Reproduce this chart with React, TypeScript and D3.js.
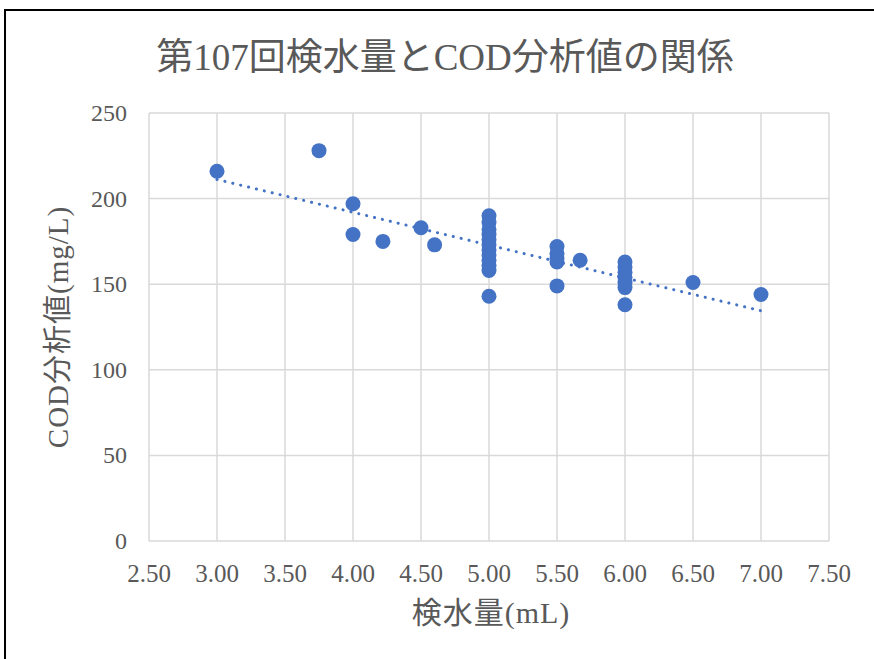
import React, { useEffect, useRef } from 'react';
import * as d3 from 'd3';

// 検水量 (mL) と COD 分析値 (mg/L) の組
const volumes = [
  3.0, 3.75, 4.0, 4.0, 4.22, 4.5, 4.6,
  5.0, 5.0, 5.0, 5.0, 5.0, 5.0, 5.0, 5.0, 5.0, 5.0, 5.0, 5.0,
  5.5, 5.5, 5.5, 5.5, 5.5, 5.67,
  6.0, 6.0, 6.0, 6.0, 6.0, 6.0, 6.0, 6.5, 7.0,
];
const codValues = [
  216, 228, 197, 179, 175, 183, 173,
  190, 186, 182, 179, 176, 173, 170, 167, 164, 161, 158, 143,
  172, 168, 165, 163, 149, 164,
  163, 160, 157, 154, 151, 148, 138, 151, 144,
];
const xTicks = [2.5, 3, 3.5, 4, 4.5, 5, 5.5, 6, 6.5, 7, 7.5];
const yTicks = [0, 50, 100, 150, 200, 250];

const title = '第107回検水量とCOD分析値の関係';
const xTitle = '検水量(mL)';
const yTitle = 'COD分析値(mg/L)';

const FONT = '"Liberation Serif", "DejaVu Serif", "Noto Sans CJK JP", serif';
const TEXT = '#595959';
const BLUE = '#4472C4';

function ScatterChart() {
  const svgRef = useRef<SVGSVGElement>(null);

  useEffect(() => {
    const width = 874;
    const height = 659;
    const plot = { left: 149, right: 829, top: 113, bottom: 541 };

    const svg = d3.select(svgRef.current);
    svg.selectAll('*').remove();
    svg.attr('width', width).attr('height', height);

    svg.append('rect').attr('width', width).attr('height', height).attr('fill', 'white');
    // chart border (cut off at the right and bottom)
    svg
      .append('rect')
      .attr('x', 5)
      .attr('y', 10)
      .attr('width', width + 20)
      .attr('height', height + 20)
      .attr('fill', 'none')
      .attr('stroke', '#000')
      .attr('stroke-width', 2);

    const x = d3.scaleLinear().domain([2.5, 7.5]).range([plot.left, plot.right]);
    const y = d3.scaleLinear().domain([0, 250]).range([plot.bottom, plot.top]);

    // gridlines
    svg
      .append('g')
      .selectAll('line')
      .data(xTicks)
      .enter()
      .append('line')
      .attr('x1', (d) => x(d))
      .attr('x2', (d) => x(d))
      .attr('y1', plot.top)
      .attr('y2', plot.bottom)
      .attr('stroke', '#d9d9d9')
      .attr('stroke-width', 1.5);
    svg
      .append('g')
      .selectAll('line')
      .data(yTicks)
      .enter()
      .append('line')
      .attr('x1', plot.left)
      .attr('x2', plot.right)
      .attr('y1', (d) => y(d))
      .attr('y2', (d) => y(d))
      .attr('stroke', '#d9d9d9')
      .attr('stroke-width', 1.5);

    // tick labels
    svg
      .append('g')
      .selectAll('text')
      .data(yTicks)
      .enter()
      .append('text')
      .attr('x', 127)
      .attr('y', (d) => y(d) + 8)
      .attr('text-anchor', 'end')
      .style('font-family', FONT)
      .style('font-size', '24px')
      .style('fill', TEXT)
      .text((d) => d);
    svg
      .append('g')
      .selectAll('text')
      .data(xTicks)
      .enter()
      .append('text')
      .attr('x', (d) => x(d))
      .attr('y', 582)
      .attr('text-anchor', 'middle')
      .style('font-family', FONT)
      .style('font-size', '25px')
      .style('fill', TEXT)
      .text((d) => d3.format('.2f')(d));

    // titles
    svg
      .append('text')
      .attr('x', 445)
      .attr('y', 70)
      .attr('text-anchor', 'middle')
      .style('font-family', FONT)
      .style('font-size', '37px')
      .style('fill', TEXT)
      .text(title);
    svg
      .append('text')
      .attr('x', 491)
      .attr('y', 623)
      .attr('text-anchor', 'middle')
      .style('font-family', FONT)
      .style('font-size', '30px')
      .style('letter-spacing', '1px')
      .style('fill', TEXT)
      .text(xTitle);
    svg
      .append('text')
      .attr('transform', `translate(68,327) rotate(-90)`)
      .attr('text-anchor', 'middle')
      .style('font-family', FONT)
      .style('font-size', '29px')
      .style('letter-spacing', '1px')
      .style('fill', TEXT)
      .text(yTitle);

    const points = volumes.map((v, i) => ({ v, c: codValues[i] }));

    svg
      .append('g')
      .selectAll('circle')
      .data(points)
      .enter()
      .append('circle')
      .attr('cx', (d) => x(d.v))
      .attr('cy', (d) => y(d.c))
      .attr('r', 7.5)
      .attr('fill', BLUE);

    // linear trendline (least squares)
    const mx = d3.mean(volumes) as number;
    const my = d3.mean(codValues) as number;
    const sxy = d3.sum(points, (d) => (d.v - mx) * (d.c - my));
    const sxx = d3.sum(points, (d) => (d.v - mx) ** 2);
    const slope = sxy / sxx;
    const icpt = my - slope * mx;
    const [x0, x1] = d3.extent(volumes) as [number, number];

    svg
      .append('line')
      .attr('x1', x(x0))
      .attr('y1', y(icpt + slope * x0))
      .attr('x2', x(x1))
      .attr('y2', y(icpt + slope * x1))
      .attr('stroke', BLUE)
      .attr('stroke-width', 3)
      .attr('stroke-linecap', 'round')
      .attr('stroke-dasharray', '0.1 8');
  }, []);

  return <svg ref={svgRef} style={{ position: 'absolute', left: 0, top: 0 }}></svg>;
}

export default function App() {
  return <ScatterChart />;
}
